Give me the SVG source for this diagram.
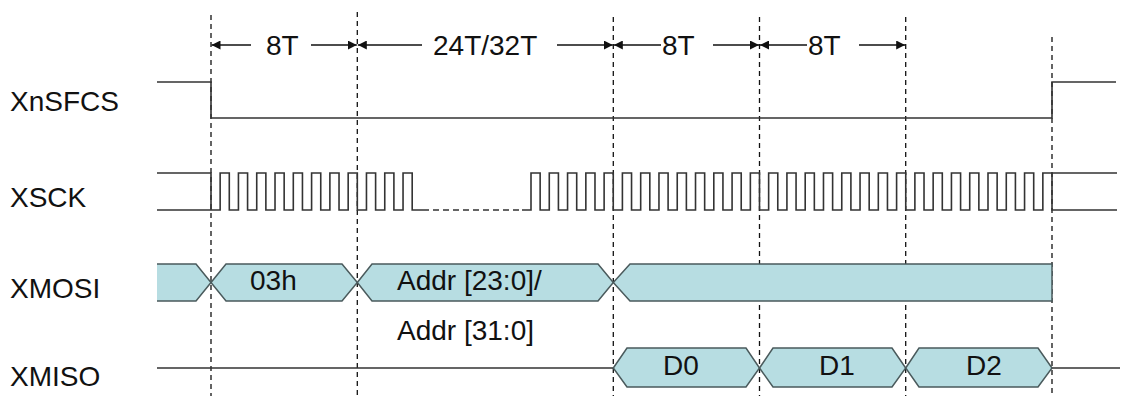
<svg xmlns="http://www.w3.org/2000/svg" width="1140" height="402" viewBox="0 0 1140 402">
<style>
text{font-family:"Liberation Sans",Arial,sans-serif;font-size:28px;fill:#111}
.dash{stroke:#111;stroke-width:1.3;stroke-dasharray:5,4;fill:none}
.sig{stroke:#333;stroke-width:1.6;fill:none}
.bus{fill:#b7dde2;stroke:#4a5a5c;stroke-width:1.5}
.dim{stroke:#111;stroke-width:1.3;fill:none}
</style>
<defs>
<marker id="ah" viewBox="0 0 10 10" refX="10" refY="5" markerWidth="9" markerHeight="9" markerUnits="userSpaceOnUse" orient="auto">
<path d="M0,0 L10,5 L0,10 Z" fill="#111"/>
</marker>
</defs>
<rect width="1140" height="402" fill="#fff"/>
<g id="guides">
<line class="dash" x1="211" y1="15" x2="211" y2="396"/>
<line class="dash" x1="357.3" y1="12" x2="357.3" y2="396"/>
<line class="dash" x1="613.3" y1="17" x2="613.3" y2="396"/>
<line class="dash" x1="759.5" y1="17" x2="759.5" y2="396"/>
<line class="dash" x1="905.7" y1="17" x2="905.7" y2="396"/>
<line class="dash" x1="1052" y1="37" x2="1052" y2="396"/>
</g>
<g id="dimensions">
<line class="dim" x1="251" y1="45" x2="211.5" y2="45" marker-end="url(#ah)"/>
<line class="dim" x1="311" y1="45" x2="356.8" y2="45" marker-end="url(#ah)"/>
<line class="dim" x1="422" y1="45" x2="357.8" y2="45" marker-end="url(#ah)"/>
<line class="dim" x1="557" y1="45" x2="612.8" y2="45" marker-end="url(#ah)"/>
<line class="dim" x1="661" y1="45" x2="613.8" y2="45" marker-end="url(#ah)"/>
<line class="dim" x1="713" y1="45" x2="759" y2="45" marker-end="url(#ah)"/>
<line class="dim" x1="807" y1="45" x2="760" y2="45" marker-end="url(#ah)"/>
<line class="dim" x1="859" y1="45" x2="905.2" y2="45" marker-end="url(#ah)"/>
<text x="266" y="55">8T</text>
<text x="433" y="55">24T/32T</text>
<text x="662" y="55">8T</text>
<text x="808" y="55">8T</text>
</g>
<g id="labels">
<text x="10" y="111">XnSFCS</text>
<text x="10" y="207">XSCK</text>
<text x="10" y="298">XMOSI</text>
<text x="10" y="386">XMISO</text>
</g>
<g id="XnSFCS">
<path class="sig" d="M157,82 H211 V118 H1052 V82 H1116"/>
</g>
<g id="XSCK">
<path class="sig" d="M157,173 H211 V210 M157,210 H211
h9.145v-37h9.145v37 h9.145v-37h9.145v37 h9.145v-37h9.145v37 h9.145v-37h9.145v37
h9.145v-37h9.145v37 h9.145v-37h9.145v37 h9.145v-37h9.145v37 h9.145v-37h9.145v37
h9.145v-37h9.145v37 h9.145v-37h9.145v37 h9.145v-37h9.145v37
H423"/>
<line x1="423" y1="210" x2="522" y2="210" stroke="#333" stroke-width="1.6" stroke-dasharray="6,4"/>
<path class="sig" d="M522,210 H531
v-37h9.14v37h9.14 v-37h9.14v37h9.14 v-37h9.14v37h9.14 v-37h9.14v37h9.14
v-37h9.14v37h9.14 v-37h9.14v37h9.14 v-37h9.14v37h9.14 v-37h9.14v37h9.14
v-37h9.14v37h9.14 v-37h9.14v37h9.14 v-37h9.14v37h9.14 v-37h9.14v37h9.14
v-37h9.14v37h9.14 v-37h9.14v37h9.14 v-37h9.14v37h9.14 v-37h9.14v37h9.14
v-37h9.14v37h9.14 v-37h9.14v37h9.14 v-37h9.14v37h9.14 v-37h9.14v37h9.14
v-37h9.14v37h9.14 v-37h9.14v37h9.14 v-37h9.14v37h9.14 v-37h9.14v37h9.14
v-37h9.14v37h9.14 v-37h9.14v37h9.14 v-37h9.14v37h9.14 v-37h9.14v37h9.14
v-37 H1117 M1052,173 V210 H1117"/>
</g>
<g id="XMOSI">
<path d="M157,264 H196 L211,282.5 L196,301 H157 Z" fill="#b7dde2"/>
<path d="M157,264 H196 L211,282.5 L196,301 H157" fill="none" stroke="#4a5a5c" stroke-width="1.5"/>
<polygon class="bus" points="211,282.5 226,264 342,264 357.3,282.5 342,301 226,301"/>
<polygon class="bus" points="357.3,282.5 372,264 598,264 613.3,282.5 598,301 372,301"/>
<polygon class="bus" points="613.3,282.5 630,264 1052,264 1052,301 630,301"/>
<text x="250" y="290">03h</text>
<text x="397" y="290">Addr [23:0]/</text>
<text x="397" y="340">Addr [31:0]</text>
</g>
<g id="XMISO">
<path class="sig" d="M157,368 H613.3 M1052,368 H1120"/>
<polygon class="bus" points="613.3,368 627,348 746,348 759.5,368 746,387 627,387"/>
<polygon class="bus" points="759.5,368 773,348 892,348 905.7,368 892,387 773,387"/>
<polygon class="bus" points="905.7,368 919,348 1038,348 1052,368 1038,387 919,387"/>
<text x="663" y="375">D0</text>
<text x="819" y="375">D1</text>
<text x="966" y="375">D2</text>
</g>
</svg>
